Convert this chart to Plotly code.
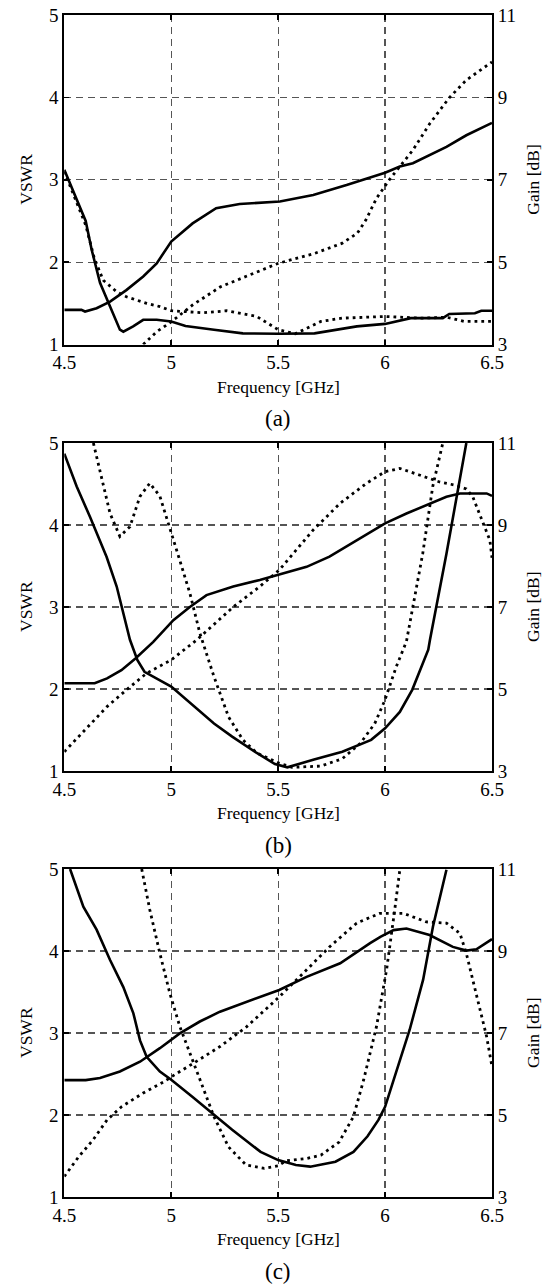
import plotly.graph_objects as go

# ---------------- data ----------------
x_ticks = [4.5, 5, 5.5, 6, 6.5]
x_tick_labels = ["4.5", "5", "5.5", "6", "6.5"]
vswr_ticks = [1, 2, 3, 4, 5]
vswr_tick_labels = ["1", "2", "3", "4", "5"]
gain_ticks = [3, 5, 7, 9, 11]
gain_tick_labels = ["3", "5", "7", "9", "11"]
panel_labels = ["(a)", "(b)", "(c)"]

# panel (a)
a_vs_f = [4.50, 4.56, 4.60, 4.628, 4.667, 4.714, 4.76, 4.776, 4.822, 4.869, 4.932, 5.00, 5.067,
          5.20, 5.335, 5.50, 5.67, 5.868, 6.00, 6.12, 6.27, 6.30, 6.42, 6.45, 6.50]
a_vs_v = [3.12, 2.75, 2.50, 2.15, 1.75, 1.46, 1.18, 1.155, 1.22, 1.30, 1.30, 1.28, 1.225,
          1.18, 1.135, 1.13, 1.135, 1.22, 1.25, 1.32, 1.32, 1.37, 1.38, 1.41, 1.41]
a_vd_f = [4.50, 4.56, 4.60, 4.64, 4.682, 4.745, 4.79, 4.885, 4.947, 5.00, 5.15, 5.26, 5.40,
          5.50, 5.58, 5.70, 5.80, 6.00, 6.17, 6.29, 6.37, 6.50]
a_vd_v = [3.10, 2.72, 2.45, 2.05, 1.78, 1.64, 1.58, 1.50, 1.46, 1.41, 1.385, 1.41, 1.34,
          1.18, 1.13, 1.28, 1.32, 1.34, 1.32, 1.33, 1.28, 1.28]
a_gs_f = [4.50, 4.58, 4.597, 4.651, 4.714, 4.79, 4.869, 4.932, 5.00, 5.10, 5.21, 5.32, 5.508,
          5.664, 5.82, 6.00, 6.069, 6.13, 6.287, 6.38, 6.50]
a_gs_g = [3.84, 3.84, 3.80, 3.88, 4.04, 4.32, 4.65, 4.97, 5.50, 5.94, 6.31, 6.41, 6.47,
          6.63, 6.87, 7.17, 7.32, 7.40, 7.80, 8.08, 8.38]
a_gd_f = [4.869, 4.932, 5.00, 5.10, 5.23, 5.37, 5.50, 5.67, 5.80, 5.87, 5.91, 5.96, 6.02,
          6.13, 6.21, 6.30, 6.38, 6.50]
a_gd_g = [3.00, 3.31, 3.55, 3.96, 4.40, 4.69, 4.97, 5.21, 5.46, 5.70, 6.02, 6.55, 7.00,
          7.72, 8.37, 8.99, 9.42, 9.86]

# panel (b)
b_vs_f = [4.50, 4.558, 4.62, 4.698, 4.745, 4.79, 4.807, 4.842, 4.875, 5.00, 5.10, 5.20, 5.285,
          5.40, 5.485, 5.543, 5.668, 5.80, 5.935, 6.00, 6.069, 6.127, 6.202, 6.21, 6.287, 6.334, 6.38]
b_vs_v = [4.87, 4.47, 4.10, 3.61, 3.25, 2.76, 2.60, 2.35, 2.21, 2.03, 1.80, 1.58, 1.42,
          1.22, 1.085, 1.045, 1.14, 1.235, 1.38, 1.52, 1.72, 1.99, 2.48, 2.60, 3.65, 4.35, 5.00]
b_vd_f = [4.636, 4.667, 4.714, 4.76, 4.807, 4.854, 4.90, 4.947, 4.994, 5.04, 5.087, 5.134, 5.20,
          5.268, 5.335, 5.40, 5.50, 5.565, 5.70, 5.80, 5.885, 5.952, 6.00, 6.052, 6.10, 6.176, 6.223, 6.27]
b_vd_v = [5.00, 4.67, 4.14, 3.86, 3.98, 4.35, 4.51, 4.35, 3.94, 3.57, 3.17, 2.68, 2.15,
          1.66, 1.38, 1.22, 1.10, 1.045, 1.06, 1.15, 1.34, 1.58, 1.87, 2.27, 2.58, 3.65, 4.47, 5.00]
b_gs_f = [4.50, 4.642, 4.70, 4.767, 4.834, 4.916, 5.01, 5.087, 5.165, 5.29, 5.414, 5.505, 5.633,
          5.74, 5.867, 6.00, 6.10, 6.193, 6.287, 6.35, 6.475, 6.50]
b_gs_g = [5.14, 5.14, 5.26, 5.46, 5.75, 6.15, 6.68, 7.00, 7.29, 7.50, 7.66, 7.80, 7.98,
          8.23, 8.63, 9.04, 9.28, 9.49, 9.69, 9.77, 9.77, 9.71]
b_gd_f = [4.50, 4.583, 4.70, 4.80, 4.884, 5.00, 5.12, 5.29, 5.414, 5.505, 5.664, 5.79, 5.914,
          6.00, 6.069, 6.16, 6.255, 6.32, 6.38, 6.41, 6.46, 6.49, 6.50]
b_gd_g = [3.47, 3.92, 4.57, 5.02, 5.38, 5.71, 6.20, 7.00, 7.50, 7.90, 8.88, 9.53, 10.02,
          10.30, 10.38, 10.22, 10.05, 9.98, 9.88, 9.69, 9.04, 8.63, 8.20]

# panel (c)
c_vs_f = [4.527, 4.589, 4.651, 4.714, 4.776, 4.823, 4.854, 4.885, 4.947, 5.00, 5.10, 5.20, 5.285,
          5.418, 5.50, 5.583, 5.65, 5.768, 5.852, 5.918, 5.969, 6.00, 6.04, 6.115, 6.178, 6.224, 6.287]
c_vs_v = [5.00, 4.54, 4.26, 3.89, 3.56, 3.24, 2.91, 2.71, 2.53, 2.43, 2.22, 2.00, 1.82,
          1.55, 1.45, 1.39, 1.37, 1.43, 1.55, 1.74, 1.94, 2.10, 2.43, 3.04, 3.65, 4.30, 4.99]
c_vd_f = [4.862, 4.90, 4.947, 4.994, 5.04, 5.087, 5.134, 5.20, 5.268, 5.35, 5.435, 5.50, 5.535,
          5.635, 5.70, 5.785, 5.852, 5.90, 5.96, 6.007, 6.045, 6.069]
c_vd_v = [5.00, 4.50, 3.97, 3.48, 3.08, 2.75, 2.43, 1.98, 1.61, 1.39, 1.35, 1.38, 1.44,
          1.47, 1.51, 1.67, 1.98, 2.43, 3.08, 3.77, 4.50, 4.99]
c_gs_f = [4.50, 4.60, 4.667, 4.76, 4.854, 4.947, 5.04, 5.134, 5.228, 5.352, 5.505, 5.633, 5.79,
          5.93, 5.98, 6.04, 6.10, 6.208, 6.317, 6.38, 6.427, 6.50]
c_gs_g = [5.85, 5.85, 5.90, 6.06, 6.30, 6.63, 6.99, 7.28, 7.52, 7.76, 8.05, 8.37, 8.70,
          9.19, 9.35, 9.51, 9.55, 9.39, 9.10, 9.01, 9.04, 9.29]
c_gd_f = [4.50, 4.567, 4.634, 4.70, 4.767, 4.867, 4.966, 5.00, 5.103, 5.228, 5.352, 5.505, 5.633,
          5.74, 5.867, 5.976, 6.085, 6.193, 6.287, 6.35, 6.38, 6.427, 6.475, 6.50]
c_gd_g = [3.50, 3.98, 4.39, 4.88, 5.20, 5.53, 5.81, 5.93, 6.26, 6.67, 7.15, 7.88, 8.54,
          9.10, 9.68, 9.92, 9.92, 9.71, 9.68, 9.43, 8.94, 7.97, 6.91, 6.18]

panels = [
    (a_vs_f, a_vs_v, a_vd_f, a_vd_v, a_gs_f, a_gs_g, a_gd_f, a_gd_g),
    (b_vs_f, b_vs_v, b_vd_f, b_vd_v, b_gs_f, b_gs_g, b_gd_f, b_gd_g),
    (c_vs_f, c_vs_v, c_vd_f, c_vd_v, c_gs_f, c_gs_g, c_gd_f, c_gd_g),
]

# ---------------- layout geometry ----------------
W, H = 559, 1285
x_left_px, x_right_px = 64.3, 492.0
panel_px = [(15.0, 344.5), (443.0, 771.0), (869.0, 1197.0)]  # top, bottom

FONT = "Liberation Serif, Times New Roman, serif"
SOLID = dict(color="black", width=2.6)
DOTTED = dict(color="black", width=2.8, dash="2.8px,4px")

fig = go.Figure()
layout = dict(
    width=W, height=H, margin=dict(l=0, r=0, t=0, b=0, autoexpand=False),
    paper_bgcolor="white", plot_bgcolor="white", showlegend=False,
    font=dict(family=FONT, size=17, color="black"),
)
annotations = []

xdom = [x_left_px / W, x_right_px / W]
axis_common = dict(
    showline=True, linecolor="black", linewidth=2, automargin=False,
    ticks="inside", ticklen=5, tickwidth=1.5, tickcolor="black",
    zeroline=False, tickfont=dict(family=FONT, size=19, color="black"),
)
grid = dict(showgrid=True, gridcolor="#555555", gridwidth=1.2, griddash="7px,5px")

for i, (pdata, (top, bot)) in enumerate(zip(panels, panel_px)):
    xa = "x" if i == 0 else f"x{i+1}"
    ya = "y" if i == 0 else f"y{2*i+1}"
    yb = f"y{2*i+2}"
    xkey = "xaxis" if i == 0 else f"xaxis{i+1}"
    yakey = "yaxis" if i == 0 else f"yaxis{2*i+1}"
    ybkey = f"yaxis{2*i+2}"
    ydom = [1 - bot / H, 1 - top / H]

    vs_f, vs_v, vd_f, vd_v, gs_f, gs_g, gd_f, gd_g = pdata
    fig.add_trace(go.Scatter(x=vs_f, y=vs_v, mode="lines", line=SOLID, xaxis=xa, yaxis=ya))
    fig.add_trace(go.Scatter(x=vd_f, y=vd_v, mode="lines", line=DOTTED, xaxis=xa, yaxis=ya))
    fig.add_trace(go.Scatter(x=gs_f, y=gs_g, mode="lines", line=SOLID, xaxis=xa, yaxis=yb))
    fig.add_trace(go.Scatter(x=gd_f, y=gd_g, mode="lines", line=DOTTED, xaxis=xa, yaxis=yb))

    layout[xkey] = dict(domain=xdom, anchor=ya, range=[4.5, 6.5], tickmode="array",
                        tickvals=x_ticks, ticktext=x_tick_labels, mirror="ticks",
                        **axis_common, **grid)
    layout[yakey] = dict(domain=ydom, anchor=xa, range=[1, 5], tickmode="array",
                         tickvals=vswr_ticks, ticktext=vswr_tick_labels, side="left",
                         **axis_common, **grid)
    layout[ybkey] = dict(overlaying=ya, anchor=xa, range=[3, 11], tickmode="array",
                         tickvals=gain_ticks, ticktext=gain_tick_labels, side="right",
                         showgrid=False, **axis_common)

    mid = 1 - (top + bot) / 2 / H
    annotations.append(dict(text="VSWR", x=26 / W, y=mid, xref="paper", yref="paper",
                            showarrow=False, textangle=-90, font=dict(family=FONT, size=17.5),
                            xanchor="center", yanchor="middle"))
    annotations.append(dict(text="Gain [dB]", x=533 / W, y=mid, xref="paper", yref="paper",
                            showarrow=False, textangle=-90, font=dict(family=FONT, size=17.5),
                            xanchor="center", yanchor="middle"))
    cx = (x_left_px + x_right_px) / 2 / W
    annotations.append(dict(text="Frequency [GHz]", x=cx, y=1 - (bot + 42) / H,
                            xref="paper", yref="paper", showarrow=False,
                            font=dict(family=FONT, size=17.5), xanchor="center", yanchor="middle"))
    annotations.append(dict(text=panel_labels[i], x=cx, y=1 - (bot + 74) / H,
                            xref="paper", yref="paper", showarrow=False,
                            font=dict(family=FONT, size=23), xanchor="center", yanchor="middle"))

layout["annotations"] = annotations
fig.update_layout(**layout)
fig.write_html(
    "out.html",
    config={"displayModeBar": False, "staticPlot": True},
    post_script="document.body.style.margin='0';document.body.style.padding='0';"
                "document.body.style.overflow='hidden';",
)
